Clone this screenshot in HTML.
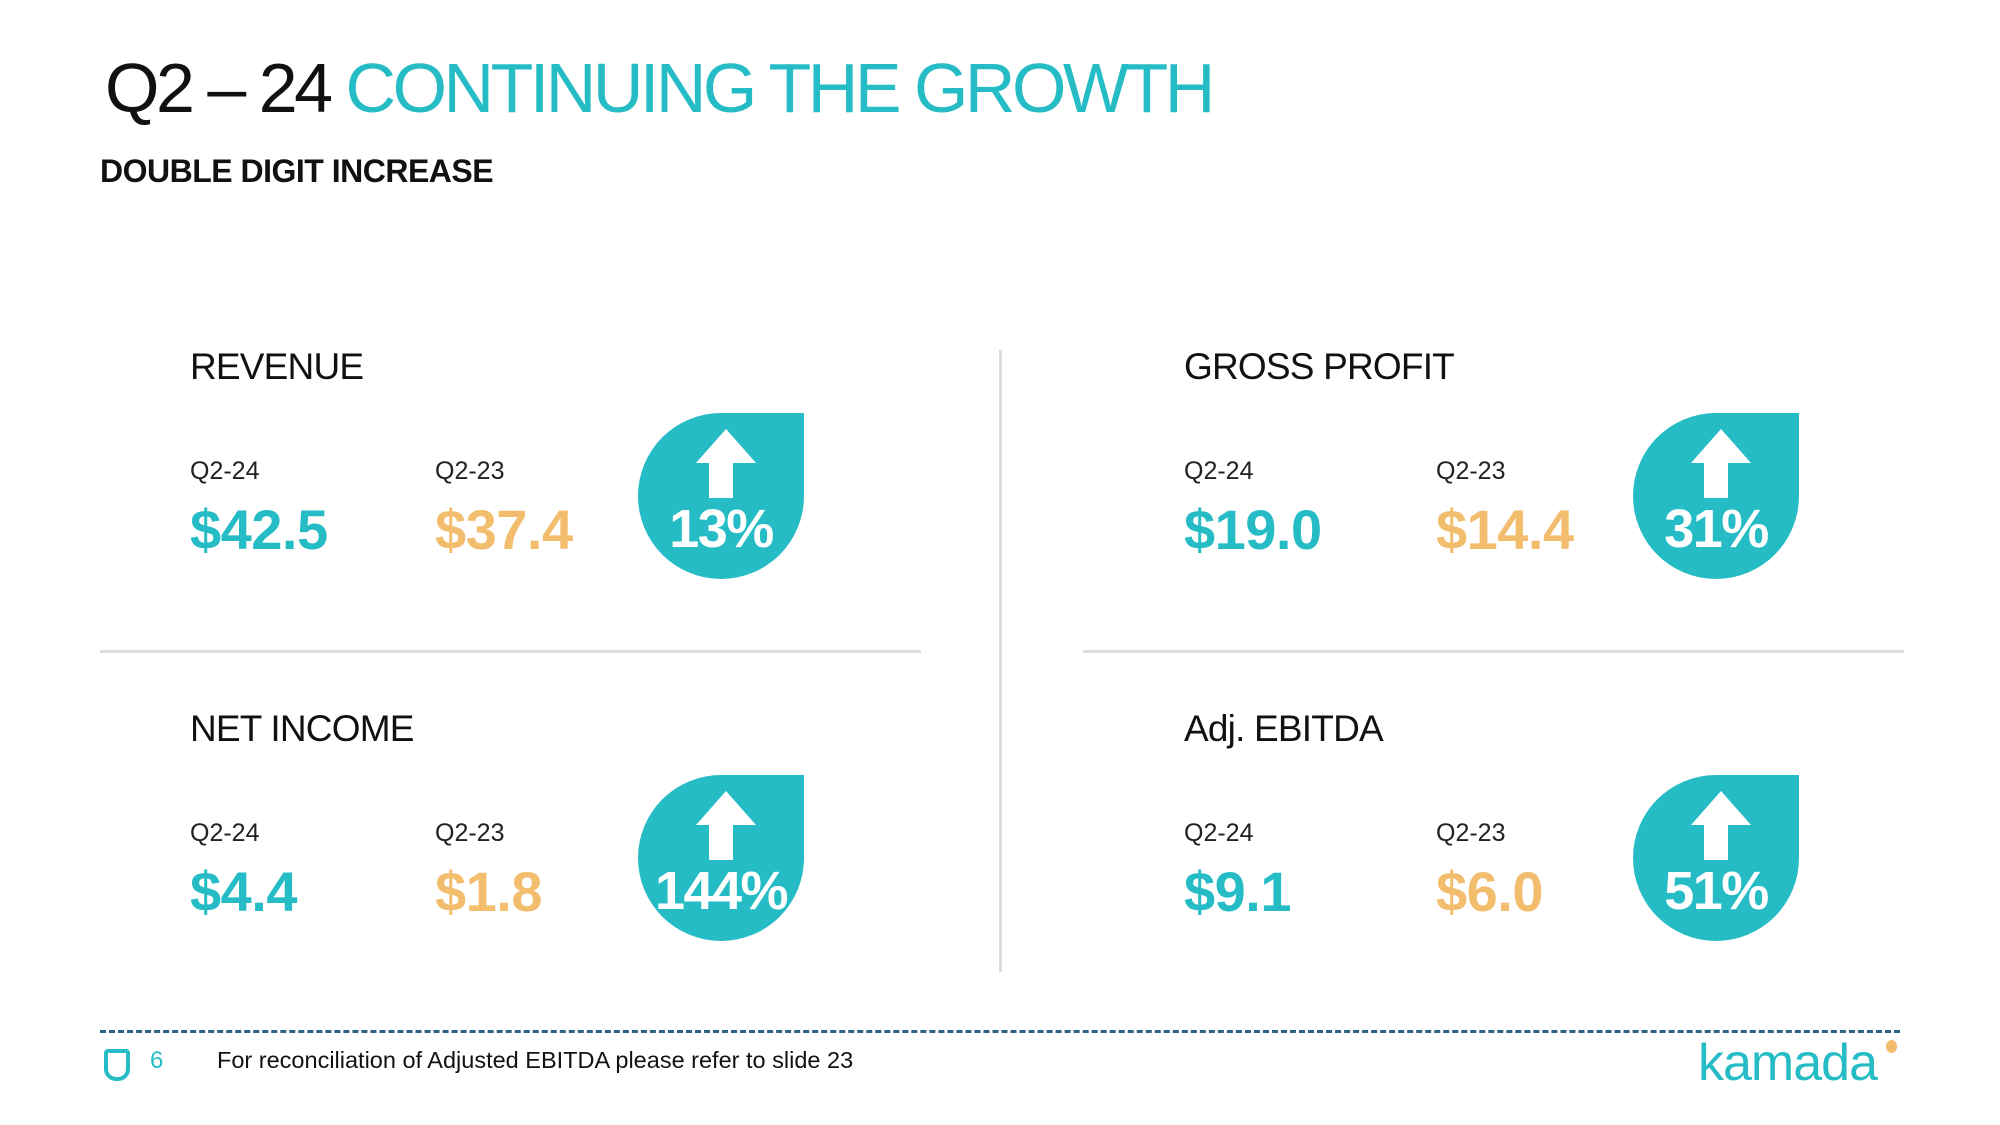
<!DOCTYPE html>
<html><head><meta charset="utf-8">
<style>
body{margin:0;width:2000px;height:1125px;background:#fff;position:relative;overflow:hidden;font-family:"Liberation Sans",sans-serif;}
.a{position:absolute;white-space:nowrap;}
.title{left:105px;top:48px;font-size:70px;color:#111;letter-spacing:-3.5px}
.title span{color:#26bcc6}
.sub{left:100px;top:153px;font-size:32px;font-weight:bold;color:#111;letter-spacing:-0.5px}
.head{font-size:37px;color:#111;letter-spacing:-0.8px}
.lbl{font-size:25px;color:#222}
.val{font-size:56px;font-weight:bold;letter-spacing:-0.5px}
.t{color:#26bcc6}.o{color:#f3bd6e}
.badge{position:absolute;width:166px;height:166px;background:#26bcc6;border-radius:50% 0 50% 50%}
.badge .arr{position:absolute;left:58px;top:16px;width:0;height:0;border-left:30px solid transparent;border-right:30px solid transparent;border-bottom:34px solid #fff}
.badge .stem{position:absolute;left:71px;top:49px;width:24px;height:36px;background:#fff}
.badge .pct{position:absolute;left:0;width:166px;top:85px;text-align:center;font-size:54px;font-weight:bold;color:#fff;letter-spacing:-1.5px}
.hl{position:absolute;height:3px;background:#ddd}
</style></head><body>
<div class="a title">Q2 – 24 <span>CONTINUING THE GROWTH</span></div>
<div class="a sub">DOUBLE DIGIT INCREASE</div>

<div class="hl" style="left:100px;top:650px;width:821px"></div>
<div class="hl" style="left:1083px;top:650px;width:821px"></div>
<div class="a" style="left:999px;top:350px;width:3px;height:622px;background:#ddd"></div>

<div id="panels"></div>

<div class="a" style="left:100px;top:1030px;width:1800px;border-top:3px dashed #2a6585"></div>
<div class="a" style="left:104px;top:1049px;width:18px;height:24px;border:4px solid #26bcc6;border-radius:4px 4px 12px 12px"></div>
<div class="a" style="left:150px;top:1047px;font-size:24px;color:#26bcc6">6</div>
<div class="a" style="left:217px;top:1047px;font-size:23.5px;color:#111">For reconciliation of Adjusted EBITDA please refer to slide 23</div>
<div class="a" style="left:1698px;top:1033px;font-size:52px;color:#26bcc6;letter-spacing:-1px">kamada</div>
<div class="a" style="left:1886px;top:1040px;width:11px;height:13px;border-radius:50%;background:#f3bd6e"></div>

<script>
const titles=["REVENUE","GROSS PROFIT","NET INCOME","Adj. EBITDA"];
const cur=["$42.5","$19.0","$4.4","$9.1"];
const prev=["$37.4","$14.4","$1.8","$6.0"];
const pcts=["13%","31%","144%","51%"];
const slots=[[190,435,638,0],[1184,1436,1633,0],[190,435,638,362],[1184,1436,1633,362]];
const root=document.getElementById('panels');
titles.forEach((tt,i)=>{
  const [x,x2,bx,dy]=slots[i];
  const g=document.createElement('div');
  
  
  g.innerHTML=`<div class="a head" style="left:${x}px;top:${346+dy}px">${tt}</div>
<div class="a lbl" style="left:${x}px;top:${457+dy}px">Q2-24</div>
<div class="a lbl" style="left:${x2}px;top:${457+dy}px">Q2-23</div>
<div class="a val t" style="left:${x}px;top:${497+dy}px">${cur[i]}</div>
<div class="a val o" style="left:${x2}px;top:${497+dy}px">${prev[i]}</div>
<div class="badge" style="left:${bx}px;top:${413+dy}px"><div class="arr"></div><div class="stem"></div><div class="pct">${pcts[i]}</div></div>`;
  root.appendChild(g);
});
</script>
</body></html>
